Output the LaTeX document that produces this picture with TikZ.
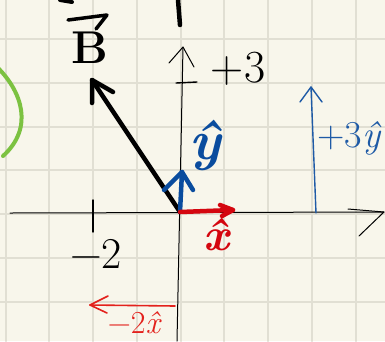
\documentclass[tikz,border=0pt]{standalone}
\usepackage{fontspec}
\usetikzlibrary{arrows.meta}
\definecolor{paper}{HTML}{F8F6EB}
\definecolor{gridc}{HTML}{E1DFD3}
\definecolor{inkblue}{HTML}{0A4C9E}
\definecolor{thinblue}{HTML}{1E5AA6}
\definecolor{inkred}{HTML}{D4060F}
\definecolor{thinred}{HTML}{E3211C}
\definecolor{inkgreen}{HTML}{7CC241}
\tikzset{
  gridline/.style={gridc, line width=2pt},
  axisline/.style={black, line width=1pt},
  thickvec/.style={line width=4.5pt},
  thinvec/.style={line width=1.6pt},
  lbl/.style={inner sep=0pt, outer sep=0pt},
}
\begin{document}
\begin{tikzpicture}[x=1pt,y=-1pt,line cap=round,line join=round]
\fill[paper] (0,0) rectangle (385,341);
\useasboundingbox (0,0) rectangle (385,341);
% grid
\foreach \x in {5.5,49.25,93,136.75,180.5,224.25,268,311.75,355.5}
  \draw[gridline] (\x,0) -- (\x,341);
\foreach \y in {39,82.75,126.5,170.25,214,257.75,301.5}
  \draw[gridline] (0,\y) -- (385,\y);
% coordinates
\coordinate (O) at (180,212);
\coordinate (xl) at (10,213);
\coordinate (xr) at (384,212);
\coordinate (xh1) at (348,209);
\coordinate (xh2) at (359,236);
\coordinate (yb) at (177,341);
\coordinate (yt) at (183,47);
\coordinate (yh1) at (169,63);
\coordinate (yh2) at (194,67);
\coordinate (t3a) at (176,83);
\coordinate (t3b) at (197,82);
\coordinate (t2a) at (93,200);
\coordinate (t2b) at (93,232);
% axes
\draw[axisline] (xl) -- (xr);
\draw[axisline] (xh1) -- (xr) -- (xh2);
\draw[axisline] (yb) -- (yt);
\draw[axisline] (yh1) -- (yt) -- (yh2);
\draw[axisline, line width=1.4pt] (t3a) -- (t3b);
\draw[axisline, line width=1.4pt] (t2a) -- (t2b);
% top marks
\coordinate (ma) at (178,0);
\coordinate (mb) at (180,25);
\draw[black, line width=4.5pt] (ma) -- (mb);
\coordinate (fa) at (60,0);
\coordinate (fb) at (72,2);
\draw[black, line width=4pt] (fa) -- (fb);
% green arc
\coordinate (ga) at (-2,68);
\coordinate (gb) at (3,156);
\draw[inkgreen, line width=4pt] (ga) .. controls (22,92) and (34,128) .. (gb);
% thin blue +3y vector
\coordinate (b3s) at (316,213);
\coordinate (b3t) at (311,87);
\coordinate (b3l) at (300,102);
\coordinate (b3r) at (322,102);
\draw[thinblue, line width=1.4pt] (b3s) -- (b3t);
\draw[thinblue, line width=1.4pt] (b3l) -- (b3t) -- (b3r);
% black B vector
\coordinate (Bt) at (92,80);
\coordinate (Bh1) at (92,103);
\coordinate (Bh2) at (113,92);
\draw[black, thickvec] (O) -- (Bt);
\draw[black, thickvec] (Bh1) -- (Bt) -- (Bh2);
% blue y-hat vector
\coordinate (yv) at (182,172);
\coordinate (yvl) at (164,190);
\coordinate (yvr) at (193,190);
\draw[inkblue, thickvec] (O) -- (yv);
\draw[inkblue, thickvec] (yvl) -- (yv) -- (yvr);
% red x-hat vector
\coordinate (xv) at (233,210);
\coordinate (xvl) at (220,205);
\coordinate (xvr) at (222,216);
\draw[inkred, thickvec] (O) -- (xv);
\draw[inkred, thickvec] (xvl) -- (xv) -- (xvr);
% thin red -2x vector
\coordinate (r2s) at (175,306);
\coordinate (r2t) at (90,305);
\coordinate (r2u) at (108,296);
\coordinate (r2d) at (107,313);
\draw[thinred, thinvec] (r2s) -- (r2t);
\draw[thinred, thinvec] (r2u) -- (r2t) -- (r2d);
% labels
\node[lbl] (Blab) at (90,48) {\fontsize{46}{46}\selectfont\bfseries B};
\coordinate (va) at (68,20);
\coordinate (vb) at (107,15);
\coordinate (vc) at (96,29);
\draw[black, line width=3.5pt] (va) -- (vb) -- (vc);
\node[lbl] (p3) at (238,69) {\fontsize{46}{46}\selectfont +3};
\node[lbl, inkblue] (yhat) at (205,145) {\fontsize{56}{56}\selectfont\bfseries\itshape ŷ};
\node[lbl, inkred] (xhat) at (216,234) {\fontsize{46}{46}\selectfont\bfseries\itshape \^{x}};
\node[lbl, thinblue] (p3y) at (349,138) {\fontsize{38}{38}\selectfont +3\itshape ŷ};
\node[lbl] (m2) at (96,254) {\fontsize{44}{44}\selectfont −2};
\node[lbl, thinred] (m2x) at (134,323) {\fontsize{32}{32}\selectfont −2\itshape\^{x}};
\end{tikzpicture}
\end{document}
